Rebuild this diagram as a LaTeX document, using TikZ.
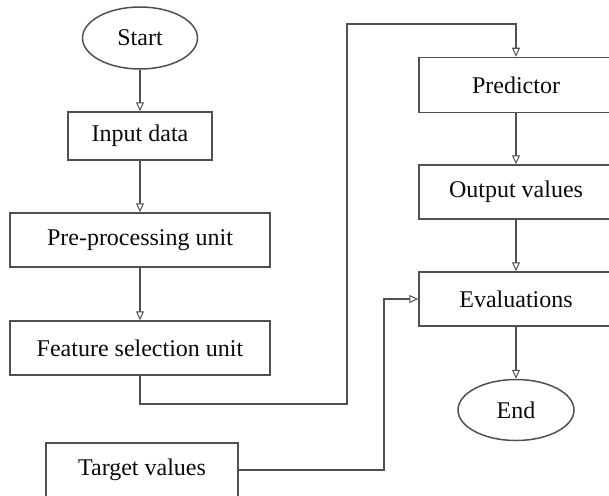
\documentclass[tikz,border=0pt]{standalone}
\usepackage{fontspec}
\setmainfont{Liberation Serif}
\usetikzlibrary{arrows.meta,shapes.geometric}
\definecolor{edge}{HTML}{505050}
\definecolor{ink}{HTML}{0A0A0A}
\tikzset{
  flowbox/.style={draw=edge, line width=1.5pt, rectangle, minimum width=#1,
    inner sep=0pt, text=ink, font=\fontsize{24}{28}\selectfont},
  terminal/.style={draw=edge, line width=1.5pt, ellipse, inner sep=0pt,
    text=ink, font=\fontsize{24}{28}\selectfont},
  link/.style={draw=edge, line width=1.5pt,
    -{Triangle[open, length=9pt, width=8pt, line width=1pt]}}
}
\begin{document}
\begin{tikzpicture}[x=1pt, y=-1pt]
  \path[use as bounding box] (0,0) rectangle (609,495);
  \clip (0,0) rectangle (609,495);

  % left column
  \node[terminal, minimum width=115pt, minimum height=62pt] (start) at (140,38) {Start};
  \node[flowbox=144pt, minimum height=48pt] (input) at (140,136) {Input data};
  \node[flowbox=260pt, minimum height=54pt] (pre) at (140,240) {Pre-processing unit};
  \node[flowbox=260pt, minimum height=54pt] (feat) at (140,348) {Feature selection unit};
  \node[flowbox=192pt, minimum height=54pt] (target) at (142,470) {Target values};

  % right column
  \node[flowbox=194pt, minimum height=55pt] (pred) at (516,85) {Predictor};
  \node[flowbox=194pt, minimum height=54pt] (out) at (516,192) {Output values};
  \node[flowbox=194pt, minimum height=54pt] (eval) at (516,299) {Evaluations};
  \node[terminal, minimum width=116pt, minimum height=61pt] (end) at (516,410) {End};

  % routing points
  \coordinate (f1) at (140,404);
  \coordinate (f2) at (347,404);
  \coordinate (f3) at (347,24);
  \coordinate (f4) at (516,24);
  \coordinate (t1) at (384,470);
  \coordinate (t2) at (384,299);

  % connectors
  \draw[link] (start) -- (input);
  \draw[link] (input) -- (pre);
  \draw[link] (pre) -- (feat);
  \draw[link] (feat.south) -- (f1) -- (f2) -- (f3) -- (f4) -- (pred.north);
  \draw[link] (pred) -- (out);
  \draw[link] (out) -- (eval);
  \draw[link] (eval) -- (end);
  \draw[link] (target.east) -- (t1) -- (t2) -- (eval.west);
\end{tikzpicture}
\end{document}
